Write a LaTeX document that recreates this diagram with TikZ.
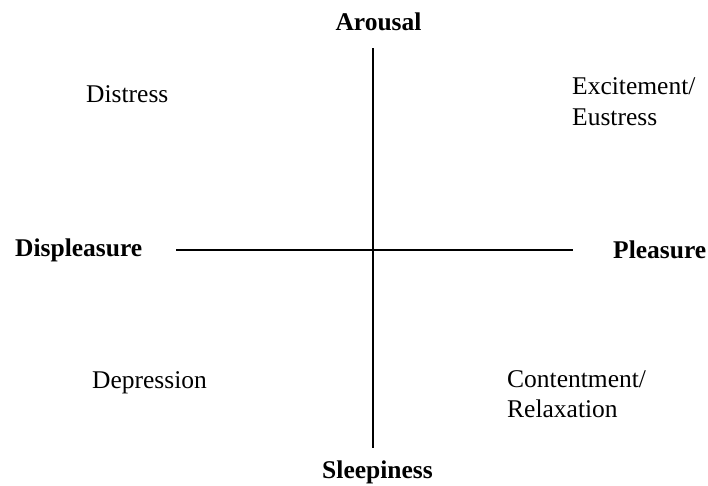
\documentclass[tikz,border=0pt]{standalone}
\usepackage{fontspec}
\setmainfont{Liberation Serif}
\begin{document}
\begin{tikzpicture}[x=1pt,y=-1pt,
  lbl/.style={inner sep=0pt,font=\fontsize{25.5}{30.5}\selectfont},
  axislbl/.style={lbl,font=\fontsize{25.5}{30.5}\selectfont\bfseries},
  axis/.style={line width=2pt}]
\useasboundingbox (0,0) rectangle (708,485);
\coordinate (top) at (373,48);
\coordinate (bottom) at (373,448);
\coordinate (left) at (176,250);
\coordinate (right) at (573,250);
\draw[axis] (top) -- (bottom);
\draw[axis] (left) -- (right);
\node[axislbl,anchor=base] (arousal) at (378.5,30) {Arousal};
\node[axislbl,anchor=base] (sleep) at (377.5,478) {Sleepiness};
\node[axislbl,anchor=base west] (displeasure) at (15,256) {Displeasure};
\node[axislbl,anchor=base west] (pleasure) at (613,258) {Pleasure};
\node[lbl,anchor=base west] (distress) at (86,102) {Distress};
\node[lbl,anchor=base west] (excite1) at (572,94) {Excitement/};
\node[lbl,anchor=base west] (excite2) at (572,125) {Eustress};
\node[lbl,anchor=base west] (depression) at (92,388) {Depression};
\node[lbl,anchor=base west] (content1) at (507,387) {Contentment/};
\node[lbl,anchor=base west] (content2) at (507,417) {Relaxation};
\end{tikzpicture}
\end{document}
